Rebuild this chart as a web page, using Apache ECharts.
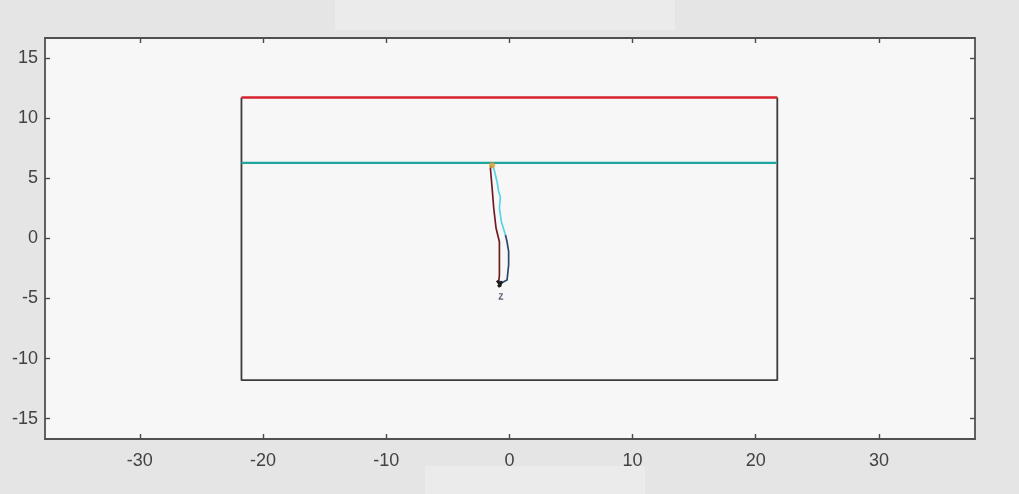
<!DOCTYPE html>
<html>
<head>
<meta charset="utf-8">
<script src="https://cdn.jsdelivr.net/npm/echarts@6/dist/echarts.min.js"></script>
<style>
html,body{margin:0;padding:0;background:#e5e5e5;}
#c{width:1019px;height:494px;}
</style>
</head>
<body>
<div id="c"></div>
<script>
const xTicks = [-30, -20, -10, 0, 10, 20, 30];
const yTicks = [-15, -10, -5, 0, 5, 10, 15];
const xRange = [-37.7, 37.8];
const yRange = [-16.7, 16.7];

const boxFrame = [[-21.75, 11.75], [-21.75, -11.8], [21.75, -11.8], [21.75, 11.75]];
const topLine = [[-21.75, 11.75], [21.75, 11.75]];
const midLine = [[-21.75, 6.3], [21.75, 6.3]];
const pathDarkRed = [[-1.46, 6.1], [-1.54, 5.85], [-1.4, 4.18], [-1.27, 2.52], [-1.08, 0.85], [-0.81, -0.27], [-0.81, -1.65], [-0.81, -3.04], [-0.87, -3.7]];
const pathCyan = [[-1.46, 6.12], [-1.27, 5.85], [-1.0, 4.73], [-0.87, 3.9], [-0.73, 3.48], [-0.81, 2.52], [-0.65, 1.4], [-0.32, 0.29]];
const pathNavy = [[-0.32, 0.29], [-0.19, -0.27], [-0.06, -1.1], [-0.06, -2.2], [-0.19, -3.46], [-0.81, -3.79]];
const endCluster = [[-1.0, -3.5], [-0.7, -3.9], [-0.9, -4.0], [-0.6, -3.6], [-0.8, -3.75]];
const endTail = [[-0.85, -4.6], [-0.55, -4.6], [-0.85, -5.05], [-0.5, -5.05]];
const startPoint = [[-1.4, 6.1]];

const chart = echarts.init(document.getElementById('c'), null, {renderer: 'canvas'});
const axisLine = {show: true, onZero: false, lineStyle: {color: '#505050', width: 1.8}};
const labelFont = {color: '#424242', fontSize: 18, fontFamily: 'Liberation Sans, Arial'};
function xa(pos, labels) {
  return {type: 'value', position: pos, min: xRange[0], max: xRange[1],
    axisLine: axisLine, splitLine: {show: false},
    axisTick: {show: true, inside: true, length: 5, customValues: xTicks, lineStyle: {color: '#4a4a4a', width: 1.4}},
    axisLabel: Object.assign({show: labels, margin: 13, customValues: xTicks}, labelFont)};
}
function ya(pos, labels) {
  return {type: 'value', position: pos, min: yRange[0], max: yRange[1],
    axisLine: axisLine, splitLine: {show: false},
    axisTick: {show: true, inside: true, length: 5, customValues: yTicks, lineStyle: {color: '#4a4a4a', width: 1.4}},
    axisLabel: Object.assign({show: labels, margin: 7, customValues: yTicks}, labelFont)};
}
function line(data, color, width) {
  return {type: 'line', data: data, showSymbol: false, symbol: 'none', animation: false,
    lineStyle: {color: color, width: width}, xAxisIndex: 0, yAxisIndex: 0, z: 3};
}
chart.setOption({
  animation: false,
  backgroundColor: '#e5e5e5',
  graphic: [
    {type: 'rect', shape: {x: 335, y: 0, width: 340, height: 30}, style: {fill: '#ebebeb'}, z: -10},
    {type: 'rect', shape: {x: 425, y: 466, width: 220, height: 28}, style: {fill: '#ebebeb'}, z: -10}
  ],
  grid: {left: 45, right: 44, top: 38, bottom: 55, show: true, backgroundColor: '#f7f7f7', borderWidth: 0},
  xAxis: [xa('bottom', true), xa('top', false)],
  yAxis: [ya('left', true), ya('right', false)],
  series: [
    line(boxFrame, '#3c3c3c', 1.8),
    line(topLine, '#d8232c', 2.4),
    line(midLine, '#1fa59b', 2.4),
    line(pathDarkRed, '#6e1c22', 1.7),
    line(pathCyan, '#55d4e6', 1.7),
    line(pathNavy, '#2d4870', 1.7),
    line(endCluster, '#1a1a1a', 2.8),
    line(endTail, '#555c70', 1.2),
    {type: 'scatter', data: startPoint, symbolSize: 6, itemStyle: {color: '#e0a028'}, z: 5}
  ]
});
</script>
</body>
</html>
